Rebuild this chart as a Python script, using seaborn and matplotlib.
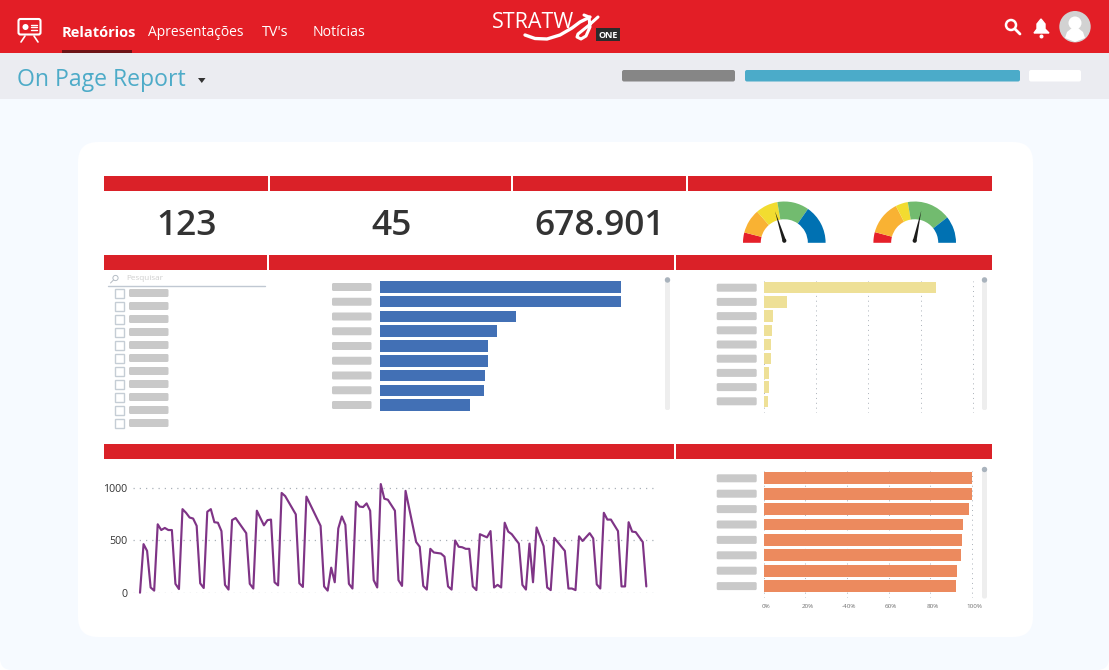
# =====================================================
# 0. IMPORT DES LIBRAIRIES
# =====================================================
import pandas as pd
import numpy as np
import matplotlib.pyplot as plt
import seaborn as sns
from matplotlib.patches import Rectangle, FancyBboxPatch, Circle, Polygon
from matplotlib.transforms import ScaledTranslation

sns.set_theme(style="white")
plt.rcParams["font.family"] = ["Open Sans", "DejaVu Sans"]

LARGEUR, HAUTEUR = 1109, 670

# =====================================================
# 1. DONNÉES
# =====================================================
df_bleu = pd.DataFrame({
    "nom": list("abcdefghi"),
    "valeur": [100, 100, 56.6, 48.5, 44.8, 44.8, 43.6, 43.2, 37.3]
})
df_jaune = pd.DataFrame({
    "nom": list("abcdefghi"),
    "valeur": [65.8, 8.9, 3.5, 3.3, 3.0, 2.9, 2.1, 2.1, 1.9]
})
df_orange = pd.DataFrame({
    "nom": list("abcdefgh"),
    "valeur": [100, 100, 98.6, 95.8, 95.3, 94.6, 93, 92.5]
})

jours = [0, 1, 2, 3, 4, 5, 6, 7, 8, 9, 10, 11, 12, 13, 14, 15, 16, 17, 18, 19, 20, 21, 22, 23,
         24, 25, 26, 27, 30, 31, 32, 33, 35, 36, 37, 38, 39, 40, 41, 44, 45, 46, 47, 51, 52, 53,
         54, 55, 56, 57, 58, 59, 60, 61, 62, 63, 64, 65, 66, 67, 68, 69, 70, 72, 73, 74, 75, 78,
         79, 80, 81, 82, 83, 85, 86, 87, 88, 89, 90, 91, 92, 93, 94, 95, 96, 98, 99, 100, 101,
         102, 103, 104, 105, 107, 108, 109, 110, 111, 112, 114, 115, 116, 117, 120, 121, 122,
         123, 124, 125, 127, 128, 129, 130, 131, 132, 133, 135, 136, 137, 138, 139, 140, 142, 143]
visites = [0, 465, 400, 50, 20, 655, 600, 620, 600, 600, 85, 35, 800, 765, 720, 710, 640, 90, 45,
           775, 800, 675, 670, 590, 75, 30, 695, 715, 570, 85, 40, 785, 645, 695, 700, 100, 70,
           955, 925, 750, 90, 55, 920, 640, 60, 20, 240, 100, 615, 730, 650, 85, 40, 870, 825,
           820, 855, 785, 120, 50, 1040, 900, 890, 785, 120, 65, 975, 485, 440, 65, 30, 420, 385,
           375, 345, 60, 30, 500, 440, 435, 420, 420, 60, 25, 560, 530, 590, 50, 75, 50, 670, 585,
           560, 470, 75, 30, 470, 100, 625, 445, 50, 25, 525, 400, 40, 40, 25, 540, 495, 570, 520,
           80, 40, 765, 700, 700, 590, 60, 60, 675, 585, 580, 485, 60]
df_ligne = pd.DataFrame({"jour": jours, "visites": visites})

# =====================================================
# 2. FONCTIONS UTILES
# =====================================================
def axes_px(x0, y0, x1, y1):
    ax = plt.axes([x0 / LARGEUR, 1 - y1 / HAUTEUR, (x1 - x0) / LARGEUR, (y1 - y0) / HAUTEUR])
    ax.patch.set_alpha(0)
    return ax

def rect(x0, y0, x1, y1, couleur, rayon=0, **kw):
    if rayon:
        fond.add_patch(FancyBboxPatch((x0 + rayon, y0 + rayon), x1 - x0 - 2 * rayon, y1 - y0 - 2 * rayon,
                                      boxstyle=f"round,pad={rayon},rounding_size={rayon}",
                                      fc=couleur, ec="none", **kw))
    else:
        fond.add_patch(Rectangle((x0, y0), x1 - x0, y1 - y0, fc=couleur, ec="none", **kw))

def barres(df, boite, couleur, xmax, hauteur, ymax=None):
    ax = axes_px(*boite)
    sns.barplot(data=df, x="valeur", y="nom", color=couleur, saturation=1, width=hauteur, linewidth=0, ax=ax)
    ax.set_xlim(0, xmax)
    if ymax is not None:
        ax.set_ylim(ymax, -0.5)
    ax.set_xlabel("")
    ax.set_ylabel("")
    ax.set_yticklabels([])
    ax.tick_params(length=0, labelbottom=False)
    sns.despine(ax=ax, left=True, bottom=True)
    return ax

def jauge(cx, cy, r, parts, pointe):
    ax = axes_px(cx - r, cy - r, cx + r, cy + r)
    couleurs = ["#e5202a", "#f9b233", "#f2dc30", "#72bb6f", "#0071b2", "none"]
    ax.pie(parts + [180], colors=couleurs, startangle=180, counterclock=False,
           radius=1, wedgeprops={"width": 0.43, "linewidth": 0})
    ax.set_xlim(-1, 1)
    ax.set_ylim(-1, 1)
    ax.add_patch(Polygon([(-0.045, 0.05), (0.045, 0.05), pointe], fc="#1d1d1b", ec="none", clip_on=False))
    ax.add_patch(Circle((0, 0.05), 0.05, fc="#1d1d1b", ec="none", clip_on=False))

# =====================================================
# 3. FOND DE LA PAGE
# =====================================================
plt.figure(figsize=(11.09, 6.7), dpi=100, facecolor="white")

fond = plt.axes([0, 0, 1, 1])
fond.set_xlim(0, LARGEUR)
fond.set_ylim(HAUTEUR, 0)
fond.axis("off")

rect(0, 60, 1109, 670, "#f6faff", rayon=12)
rect(0, 53, 1109, 99, "#ebecf1")
rect(0, 0, 1109, 53, "#e31e26")
rect(78, 142, 1033, 637, "white", rayon=20)

# =====================================================
# 4. EN-TÊTE
# =====================================================
rect(62, 50, 132, 53, "#6d1317")
fond.text(62, 33, "Relatórios", color="white", fontsize=10.5, fontweight="bold", va="center")
fond.text(148, 33, "Apresentações", color="white", fontsize=10, va="center")
fond.text(262, 33, "TV's", color="white", fontsize=10.4, va="center")
fond.text(313, 33, "Notícias", color="white", fontsize=10.2, va="center")

# icone presentation
fond.add_patch(FancyBboxPatch((20, 20.5), 19, 12.5, boxstyle="round,pad=1.5,rounding_size=2", fc="none", ec="white", lw=1.5))
fond.add_patch(Circle((25.5, 27), 3, fc="white", ec="none"))
for y_l in [24.5, 27, 29.5]:
    fond.plot([30.5, 37], [y_l, y_l], color="white", lw=1)
fond.plot([25, 21], [36, 42], color="white", lw=1.2)
fond.plot([34, 38], [36, 42], color="white", lw=1.2)

# logo
fond.text(491.5, 22.5, "STRATW", color="white", fontsize=15.5, va="center")
fond.plot([525, 535, 547, 560, 572, 580, 590], [35, 38.5, 39, 35, 28, 22, 17], color="white", lw=2.4, solid_capstyle="round")
fond.plot([598, 588, 578, 577, 581, 586, 590, 589, 584],
          [17, 26, 34, 37, 39, 36, 27, 17, 15], color="white", lw=2.2, solid_capstyle="round")
rect(596, 28, 620, 41, "#2b2b2b")
fond.text(608, 35, "ONE", color="white", fontsize=6.5, fontweight="bold", ha="center", va="center")

# icones de droite
fond.add_patch(Circle((1011, 25), 5, fc="none", ec="white", lw=1.8))
fond.plot([1015, 1020], [29, 34], color="white", lw=2, solid_capstyle="round")
fond.add_patch(Polygon([(1034, 33), (1037, 29), (1037, 24), (1041, 19), (1045, 24), (1045, 29), (1049, 33)],
                       fc="white", ec="white", lw=1))
fond.add_patch(Circle((1041.5, 36.5), 2, fc="white", ec="none"))
fond.add_patch(Circle((1075, 26.7), 15.7, fc="#d2d2d2", ec="none"))
fond.add_patch(Circle((1075, 23), 6.5, fc="white", ec="none"))
fond.add_patch(Polygon([(1065, 38), (1067, 32), (1072, 28), (1078, 28), (1083, 32), (1085, 38), (1075, 42)],
                       fc="white", ec="none"))

# =====================================================
# 5. BARRE DU RAPPORT
# =====================================================
fond.text(17, 80, "On Page Report", color="#4dabc8", fontsize=16.6, va="center")
fond.add_patch(Polygon([(198, 78), (205.5, 78), (201.8, 83)], fc="#333333", ec="none"))
rect(622, 70, 735, 81.5, "#868686", rayon=2)
rect(745, 70, 1020, 81.5, "#4babc9", rayon=2)
rect(1029, 70, 1081, 81.5, "white", rayon=2)

# =====================================================
# 6. BANDEAUX ROUGES ET INDICATEURS
# =====================================================
ROUGE = "#da2128"
for y0, morceaux in [(176, [(104, 268), (270, 511), (513, 686), (688, 992)]),
                     (255, [(104, 267), (269, 674), (676, 992)]),
                     (444, [(104, 674), (676, 992)])]:
    for x0, x1 in morceaux:
        rect(x0, y0, x1, y0 + 15, ROUGE)

for x_t, texte in [(187, "123"), (392, "45"), (600, "678.901")]:
    fond.text(x_t, 226, texte, color="#333333", fontsize=25.5, fontweight=600, ha="center", va="center")

jauge(784.3, 242.8, 41.3, [14.5, 34.5, 31.3, 44.7, 55], (-0.225, 0.765))
jauge(914.7, 242.8, 41.3, [15, 48, 17.3, 61.7, 38], (0.16, 0.78))

# =====================================================
# 7. FILTRE
# =====================================================
fond.text(126, 278, "Pesquisar", color="#cfcfcf", fontsize=5.9, va="center")
fond.add_patch(Circle((115.5, 278), 2.6, fc="none", ec="#b5bcc4", lw=0.7))
fond.plot([113.5, 110.5], [280, 283], color="#b5bcc4", lw=0.7)
fond.plot([108, 265], [285.5, 285.5], color="#c0c8d2", lw=1)
for y_c in [293, 306, 319, 332, 345, 358, 371, 384, 397, 410, 423]:
    fond.add_patch(Rectangle((114.5, y_c - 4.5), 9, 9, fc="white", ec="#c5cdd5", lw=1))
    rect(129, y_c - 4, 168.5, y_c + 4, "#c9c9c9", rayon=1.5)

# =====================================================
# 8. BARRES HORIZONTALES
# =====================================================
COULEUR_GRILLE = "#a9b0b8"

barres(df_bleu, (380, 279.6, 621, 412.4), "#4270b5", 100, 0.78)
for y_c in np.arange(287, 406, 14.75):
    rect(332, y_c - 4, 371.5, y_c + 4, "#c9c9c9", rayon=1.5)
rect(665, 277, 670, 410, "#eeeeee", rayon=2)
fond.add_patch(Circle((667.5, 280), 2.7, fc="#a9b3bd", ec="none"))

ax_j = barres(df_jaune, (763.5, 280.6, 985, 413.4), "#eee097", 84.5, 0.8, ymax=8.85)
ax_j.set_xticks([0, 20, 40, 60, 80])
ax_j.xaxis.grid(True, color=COULEUR_GRILLE, linestyle=(0, (1, 4)), linewidth=0.7)
ax_j.set_axisbelow(True)
for y_c in np.arange(287.7, 402, 14.2):
    rect(716.7, y_c - 4, 756.7, y_c + 4, "#c9c9c9", rayon=1.5)
rect(982, 277, 987, 410, "#eeeeee", rayon=2)
fond.add_patch(Circle((984.5, 280), 2.7, fc="#a9b3bd", ec="none"))

ax_o = barres(df_orange, (763.5, 470.6, 985, 598), "#ec8a5e", 106.3, 0.76, ymax=7.77)
ax_o.set_xticks([0, 20, 40, 60, 80, 100])
ax_o.set_xticklabels(["0%", "20%", "-40%", "60%", "80%", "100%"])
ax_o.xaxis.grid(True, color=COULEUR_GRILLE, linestyle=(0, (1, 4)), linewidth=0.7)
ax_o.set_axisbelow(True)
ax_o.tick_params(labelbottom=True, labelsize=4.5, labelcolor="#6f6f6f", pad=4)
decalage = ScaledTranslation(2.5 / 100, 0, plt.gcf().dpi_scale_trans)
for etiquette in ax_o.get_xticklabels():
    etiquette.set_transform(etiquette.get_transform() + decalage)
for y_c in np.arange(478.3, 590, 15.4):
    rect(716.7, y_c - 4, 756.7, y_c + 4, "#c9c9c9", rayon=1.5)
rect(982, 467, 987, 598.5, "#eeeeee", rayon=2)
fond.add_patch(Circle((984.5, 469.5), 2.7, fc="#a9b3bd", ec="none"))

# =====================================================
# 9. COURBE
# =====================================================
ax_l = axes_px(133, 480, 658, 592.7)
sns.lineplot(data=df_ligne, x="jour", y="visites", color="#7f3486", linewidth=1.55, ax=ax_l, clip_on=False)
ax_l.set_xlim(-1.98, 146.3)
ax_l.set_ylim(0, 1079)
ax_l.set_yticks([0, 500, 1000])
ax_l.set_xticks([])
ax_l.set_xlabel("")
ax_l.set_ylabel("")
ax_l.yaxis.grid(True, color=COULEUR_GRILLE, linestyle=(0, (1, 4)), linewidth=0.9)
ax_l.set_axisbelow(True)
ax_l.tick_params(axis="y", length=0, labelsize=7.7, labelcolor="#333333", pad=4)
sns.despine(ax=ax_l, left=True, bottom=True)

# =====================================================
# 10. SAUVEGARDE
# =====================================================
plt.savefig("out.png", dpi=100)
